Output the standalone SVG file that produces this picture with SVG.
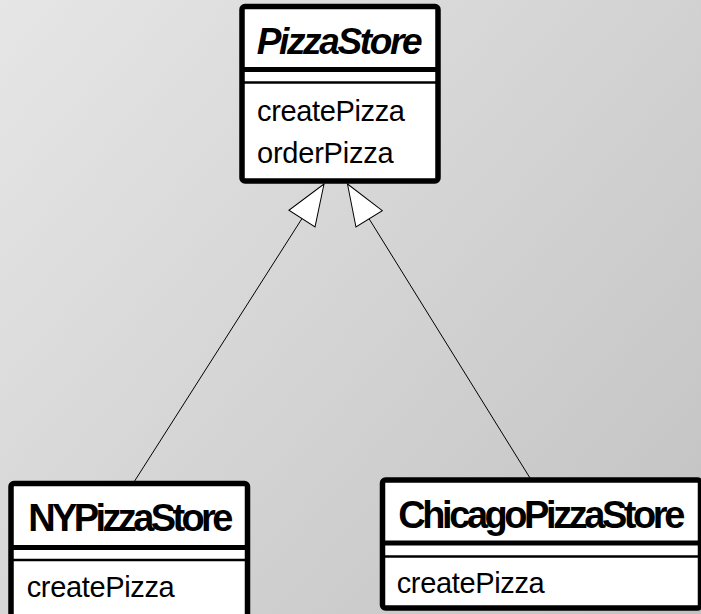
<svg xmlns="http://www.w3.org/2000/svg" width="701" height="614" viewBox="0 0 701 614">
<defs>
<linearGradient id="bg" gradientUnits="userSpaceOnUse" x1="0" y1="0" x2="701" y2="614">
<stop offset="0" stop-color="#e6e6e6"/>
<stop offset="1" stop-color="#c2c2c2"/>
</linearGradient>
<marker id="inherit" markerUnits="userSpaceOnUse" viewBox="-2 -18 46 36" markerWidth="46" markerHeight="36" refX="0" refY="0" orient="auto">
<path d="M0,0 L41,-15.5 L41,15.5 Z" fill="#fff" stroke="#000" stroke-width="1"/>
</marker>
<style>
.box{fill:#fff;stroke:#000;stroke-width:5.5}
.sep{stroke:#000;stroke-width:5}
.sep2{stroke:#000;stroke-width:2.5}
.title{font-family:"Liberation Sans",Arial,sans-serif;font-weight:bold;font-size:38px;fill:#000}
.abstract{font-style:italic;font-size:37px}
.op{font-family:"Liberation Sans",Arial,sans-serif;font-size:29px;fill:#000}
.conn{stroke:#000;stroke-width:1;fill:none}
</style>
</defs>
<rect x="0" y="0" width="701" height="614" fill="url(#bg)"/>
<g id="connectors">
<line class="conn" x1="324" y1="184" x2="134" y2="482" marker-start="url(#inherit)"/>
<line class="conn" x1="347.5" y1="184" x2="530" y2="478" marker-start="url(#inherit)"/>
</g>
<g id="PizzaStore">
<rect class="box" x="242" y="6.5" width="196" height="174.5" rx="3"/>
<line class="sep" x1="242" y1="69.5" x2="438" y2="69.5"/>
<line class="sep2" x1="242" y1="82.5" x2="438" y2="82.5"/>
<text class="title abstract" x="256.7" y="54" textLength="166" lengthAdjust="spacing">PizzaStore</text>
<text class="op" x="257" y="121" textLength="148" lengthAdjust="spacing">createPizza</text>
<text class="op" x="257" y="162.5" textLength="136.6" lengthAdjust="spacing">orderPizza</text>
</g>
<g id="NYPizzaStore">
<rect class="box" x="11" y="483.5" width="236.5" height="160" rx="3"/>
<line class="sep" x1="11" y1="547.5" x2="247.5" y2="547.5"/>
<line class="sep2" x1="11" y1="560" x2="247.5" y2="560"/>
<text class="title" x="28.3" y="530.5" textLength="205" lengthAdjust="spacing">NYPizzaStore</text>
<text class="op" x="26.7" y="597" textLength="148" lengthAdjust="spacing">createPizza</text>
</g>
<g id="ChicagoPizzaStore">
<rect class="box" x="382.5" y="480" width="318" height="128" rx="3"/>
<line class="sep" x1="382.5" y1="543" x2="700.5" y2="543"/>
<line class="sep2" x1="382.5" y1="556.5" x2="700.5" y2="556.5"/>
<text class="title" x="398.3" y="527.5" textLength="287" lengthAdjust="spacing">ChicagoPizzaStore</text>
<text class="op" x="396.7" y="592.5" textLength="148" lengthAdjust="spacing">createPizza</text>
</g>
</svg>
